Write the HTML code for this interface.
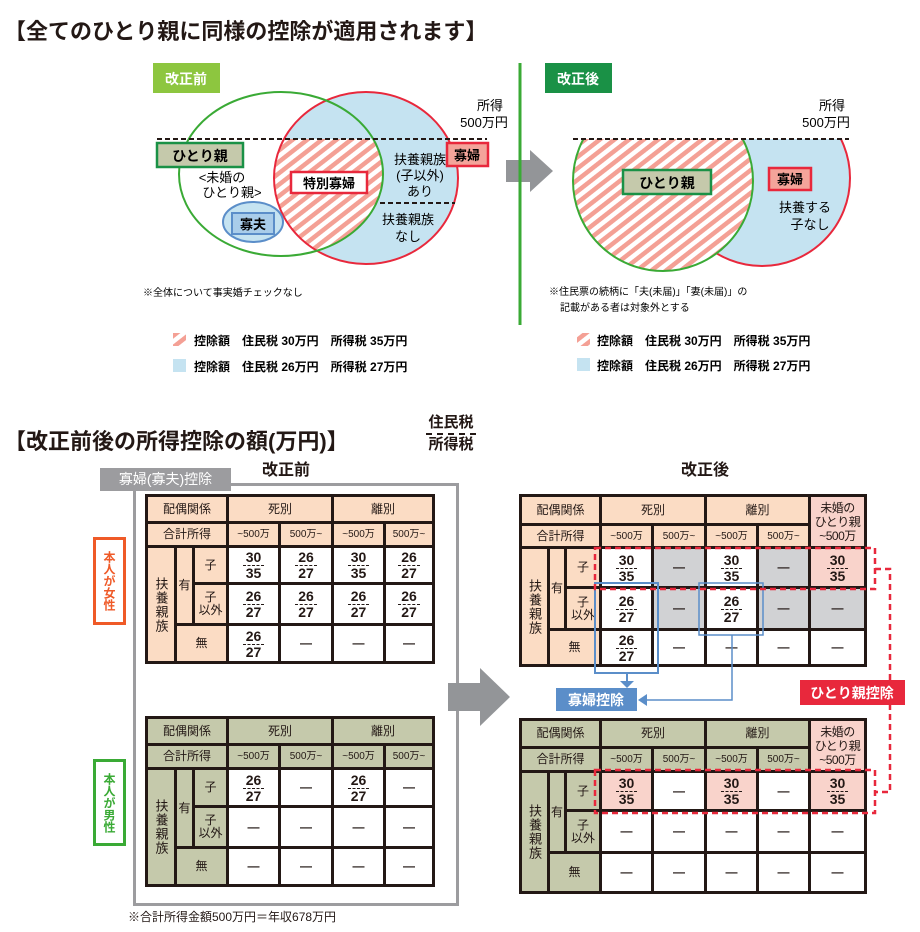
<!DOCTYPE html>
<html><head><meta charset="utf-8">
<style>
*{margin:0;padding:0;box-sizing:border-box}
body{width:920px;height:932px;background:#fff;position:relative;overflow:hidden;font-family:"Liberation Sans","Noto Sans CJK JP",sans-serif;color:#231815}
.abs{position:absolute}
.t{position:absolute;display:grid;gap:3px;padding:3px;background:#231815}
.t>div{display:flex;align-items:center;justify-content:center;text-align:center;font-size:12px;line-height:13px;background:#fff}
.p>div.h{background:#fbdcc4}
.g>div.h{background:#c5c9ab}
.t>div.gy{background:#d1d2d4}
.t>div.pk{background:#f9d3cb}
.t>div.v{writing-mode:vertical-rl;letter-spacing:1px;font-size:13px}
.t>div.s{font-size:10px}
.t>div.m{font-size:12px;line-height:14px;letter-spacing:-0.5px}
.f{display:flex;flex-direction:column;align-items:center;font-size:14px;line-height:14px;font-weight:bold}
.f span:first-child{border-bottom:1.5px dashed #231815;padding:0 3px 1px}
.d{font-size:14px;font-weight:bold}
</style></head><body>

<div class="abs" style="left:4px;top:14px;font-size:22px;font-weight:bold;letter-spacing:0px">【全てのひとり親に同様の控除が適用されます】</div>
<div class="abs" style="left:4px;top:424px;font-size:22px;font-weight:bold">【改正前後の所得控除の額(万円)】</div>
<div class="abs" style="left:418px;top:413px;width:66px;text-align:center;font-size:15px;font-weight:bold;line-height:20px"><div style="border-bottom:2px dashed #231815;display:inline-block;padding:0 2px">住民税</div><div>所得税</div></div>
<div class="abs" style="left:262px;top:456px;font-size:16px;font-weight:bold">改正前</div>
<div class="abs" style="left:681px;top:456px;font-size:16px;font-weight:bold">改正後</div>

<div class="abs" style="left:133px;top:483px;width:326px;height:423px;border:3px solid #9c9c9f"></div>
<div class="abs" style="left:100px;top:468px;width:131px;height:23px;background:#9c9c9f;color:#fff;font-size:14px;line-height:23px;text-align:center">寡婦(寡夫)控除</div>
<div class="abs" style="left:93px;top:537px;width:33px;height:88px;border:3px solid #ef5a28;color:#ef5a28;writing-mode:vertical-rl;font-size:12px;display:flex;align-items:center;justify-content:center;font-weight:bold">本人が女性</div>
<div class="abs" style="left:93px;top:759px;width:33px;height:87px;border:3px solid #3aaa35;color:#3aaa35;writing-mode:vertical-rl;font-size:12px;display:flex;align-items:center;justify-content:center;font-weight:bold">本人が男性</div>

<div class="t p" style="left:145px;top:494px;grid-template-columns:26px 15px 31px 49px 50px 49px 46px;grid-template-rows:24px 21px 34px 38px 35px">
<div class="h" style="grid-column:1/4;grid-row:1">配偶関係</div><div class="h" style="grid-column:4/6;grid-row:1">死別</div><div class="h" style="grid-column:6/8;grid-row:1">離別</div>
<div class="h" style="grid-column:1/4">合計所得</div><div class="h s">~500万</div><div class="h s">500万~</div><div class="h s">~500万</div><div class="h s">500万~</div>
<div class="h v" style="grid-row:3/6;grid-column:1">扶養親族</div><div class="h" style="grid-row:3/5;grid-column:2">有</div><div class="h" style="grid-column:3;grid-row:3">子</div>
<div style="grid-row:3;grid-column:4"><div class="f"><span>30</span><span>35</span></div></div><div style="grid-row:3;grid-column:5"><div class="f"><span>26</span><span>27</span></div></div><div style="grid-row:3;grid-column:6"><div class="f"><span>30</span><span>35</span></div></div><div style="grid-row:3;grid-column:7"><div class="f"><span>26</span><span>27</span></div></div>
<div class="h" style="grid-row:4;grid-column:3">子<br>以外</div>
<div style="grid-row:4;grid-column:4"><div class="f"><span>26</span><span>27</span></div></div><div style="grid-row:4;grid-column:5"><div class="f"><span>26</span><span>27</span></div></div><div style="grid-row:4;grid-column:6"><div class="f"><span>26</span><span>27</span></div></div><div style="grid-row:4;grid-column:7"><div class="f"><span>26</span><span>27</span></div></div>
<div class="h" style="grid-column:2/4;grid-row:5">無</div>
<div style="grid-row:5;grid-column:4"><div class="f"><span>26</span><span>27</span></div></div><div class="d" style="grid-row:5;grid-column:5">—</div><div class="d" style="grid-row:5;grid-column:6">—</div><div class="d" style="grid-row:5;grid-column:7">—</div>
</div>

<div class="t g" style="left:145px;top:716px;grid-template-columns:26px 15px 31px 49px 50px 49px 46px;grid-template-rows:24px 21px 35px 38px 35px">
<div class="h" style="grid-column:1/4;grid-row:1">配偶関係</div><div class="h" style="grid-column:4/6;grid-row:1">死別</div><div class="h" style="grid-column:6/8;grid-row:1">離別</div>
<div class="h" style="grid-column:1/4;grid-row:2">合計所得</div><div class="h s" style="grid-row:2;grid-column:4">~500万</div><div class="h s" style="grid-row:2;grid-column:5">500万~</div><div class="h s" style="grid-row:2;grid-column:6">~500万</div><div class="h s" style="grid-row:2;grid-column:7">500万~</div>
<div class="h v" style="grid-row:3/6;grid-column:1">扶養親族</div><div class="h" style="grid-row:3/5;grid-column:2">有</div><div class="h" style="grid-row:3;grid-column:3">子</div>
<div style="grid-row:3;grid-column:4"><div class="f"><span>26</span><span>27</span></div></div><div class="d" style="grid-row:3;grid-column:5">—</div><div style="grid-row:3;grid-column:6"><div class="f"><span>26</span><span>27</span></div></div><div class="d" style="grid-row:3;grid-column:7">—</div>
<div class="h" style="grid-row:4;grid-column:3">子<br>以外</div>
<div class="d" style="grid-row:4;grid-column:4">—</div><div class="d" style="grid-row:4;grid-column:5">—</div><div class="d" style="grid-row:4;grid-column:6">—</div><div class="d" style="grid-row:4;grid-column:7">—</div>
<div class="h" style="grid-column:2/4;grid-row:5">無</div>
<div class="d" style="grid-row:5;grid-column:4">—</div><div class="d" style="grid-row:5;grid-column:5">—</div><div class="d" style="grid-row:5;grid-column:6">—</div><div class="d" style="grid-row:5;grid-column:7">—</div>
</div>

<div class="t p" style="left:519px;top:494px;grid-template-columns:25px 14px 32px 49px 50px 49px 49px 53px;grid-template-rows:26px 20px 37px 39px 33px">
<div class="h" style="grid-column:1/4;grid-row:1">配偶関係</div><div class="h" style="grid-column:4/6;grid-row:1">死別</div><div class="h" style="grid-column:6/8;grid-row:1">離別</div><div class="pk m" style="grid-row:1/3;grid-column:8">未婚の<br>ひとり親<br>~500万</div>
<div class="h" style="grid-column:1/4;grid-row:2">合計所得</div><div class="h s" style="grid-row:2;grid-column:4">~500万</div><div class="h s" style="grid-row:2;grid-column:5">500万~</div><div class="h s" style="grid-row:2;grid-column:6">~500万</div><div class="h s" style="grid-row:2;grid-column:7">500万~</div>
<div class="h v" style="grid-row:3/6;grid-column:1">扶養親族</div><div class="h" style="grid-row:3/5;grid-column:2">有</div><div class="h" style="grid-row:3;grid-column:3">子</div>
<div style="grid-row:3;grid-column:4"><div class="f"><span>30</span><span>35</span></div></div><div class="gy d" style="grid-row:3;grid-column:5">—</div><div style="grid-row:3;grid-column:6"><div class="f"><span>30</span><span>35</span></div></div><div class="gy d" style="grid-row:3;grid-column:7">—</div><div class="pk" style="grid-row:3;grid-column:8"><div class="f"><span>30</span><span>35</span></div></div>
<div class="h" style="grid-row:4;grid-column:3">子<br>以外</div>
<div style="grid-row:4;grid-column:4"><div class="f"><span>26</span><span>27</span></div></div><div class="gy d" style="grid-row:4;grid-column:5">—</div><div style="grid-row:4;grid-column:6"><div class="f"><span>26</span><span>27</span></div></div><div class="gy d" style="grid-row:4;grid-column:7">—</div><div class="gy d" style="grid-row:4;grid-column:8">—</div>
<div class="h" style="grid-column:2/4;grid-row:5">無</div>
<div style="grid-row:5;grid-column:4"><div class="f"><span>26</span><span>27</span></div></div><div class="d" style="grid-row:5;grid-column:5">—</div><div class="d" style="grid-row:5;grid-column:6">—</div><div class="d" style="grid-row:5;grid-column:7">—</div><div class="d" style="grid-row:5;grid-column:8">—</div>
</div>

<div class="t g" style="left:519px;top:718px;grid-template-columns:25px 14px 32px 49px 50px 49px 49px 53px;grid-template-rows:25px 21px 36px 39px 37px">
<div class="h" style="grid-column:1/4;grid-row:1">配偶関係</div><div class="h" style="grid-column:4/6;grid-row:1">死別</div><div class="h" style="grid-column:6/8;grid-row:1">離別</div><div class="pk m" style="grid-row:1/3;grid-column:8">未婚の<br>ひとり親<br>~500万</div>
<div class="h" style="grid-column:1/4;grid-row:2">合計所得</div><div class="h s" style="grid-row:2;grid-column:4">~500万</div><div class="h s" style="grid-row:2;grid-column:5">500万~</div><div class="h s" style="grid-row:2;grid-column:6">~500万</div><div class="h s" style="grid-row:2;grid-column:7">500万~</div>
<div class="h v" style="grid-row:3/6;grid-column:1">扶養親族</div><div class="h" style="grid-row:3/5;grid-column:2">有</div><div class="h" style="grid-row:3;grid-column:3">子</div>
<div class="pk" style="grid-row:3;grid-column:4"><div class="f"><span>30</span><span>35</span></div></div><div class="d" style="grid-row:3;grid-column:5">—</div><div class="pk" style="grid-row:3;grid-column:6"><div class="f"><span>30</span><span>35</span></div></div><div class="d" style="grid-row:3;grid-column:7">—</div><div class="pk" style="grid-row:3;grid-column:8"><div class="f"><span>30</span><span>35</span></div></div>
<div class="h" style="grid-row:4;grid-column:3">子<br>以外</div>
<div class="d" style="grid-row:4;grid-column:4">—</div><div class="d" style="grid-row:4;grid-column:5">—</div><div class="d" style="grid-row:4;grid-column:6">—</div><div class="d" style="grid-row:4;grid-column:7">—</div><div class="d" style="grid-row:4;grid-column:8">—</div>
<div class="h" style="grid-column:2/4;grid-row:5">無</div>
<div class="d" style="grid-row:5;grid-column:4">—</div><div class="d" style="grid-row:5;grid-column:5">—</div><div class="d" style="grid-row:5;grid-column:6">—</div><div class="d" style="grid-row:5;grid-column:7">—</div><div class="d" style="grid-row:5;grid-column:8">—</div>
</div>

<div class="abs" style="left:128px;top:908px;font-size:12px">※合計所得金額500万円＝年収678万円</div>

<svg class="abs" style="left:0;top:0" width="920" height="932" viewBox="0 0 920 932" font-family="Liberation Sans, Noto Sans CJK JP, sans-serif">
<defs>
<pattern id="h" width="9" height="9" patternUnits="userSpaceOnUse" patternTransform="rotate(52)">
<rect width="9" height="9" fill="#fff"/><rect width="4.5" height="9" fill="#f4a095"/></pattern>
<clipPath id="cr"><ellipse cx="366" cy="178" rx="92" ry="86"/></clipPath>
<clipPath id="below"><rect x="0" y="139" width="920" height="200"/></clipPath>
</defs>
<rect x="153" y="63" width="67" height="30" fill="#8dc63f"/>
<text x="186" y="84" font-size="14" font-weight="bold" fill="#fff" text-anchor="middle">改正前</text>
<ellipse cx="366" cy="178" rx="92" ry="86" fill="#c5e3f1"/>
<g clip-path="url(#cr)"><ellipse cx="281" cy="174" rx="102" ry="82" fill="url(#h)" clip-path="url(#below)"/></g>
<ellipse cx="366" cy="178" rx="92" ry="86" fill="none" stroke="#e8283c" stroke-width="2"/>
<ellipse cx="281" cy="174" rx="102" ry="82" fill="none" stroke="#3aaa35" stroke-width="2"/>
<ellipse cx="253" cy="222" rx="30" ry="20" fill="#c5e3f1" stroke="#5b8ec9" stroke-width="2"/>
<line x1="157" y1="139" x2="487" y2="139" stroke="#231815" stroke-width="2" stroke-dasharray="5,3"/>
<line x1="380" y1="203" x2="455" y2="203" stroke="#231815" stroke-width="2" stroke-dasharray="5,3"/>
<rect x="157" y="143" width="86" height="24" fill="#c5c9ab" stroke="#1a9146" stroke-width="2.5"/>
<text x="200" y="161" font-size="14" font-weight="bold" text-anchor="middle">ひとり親</text>
<rect x="447" y="143" width="41" height="23" fill="#f4a49a" stroke="#e8283c" stroke-width="2.5"/>
<text x="467" y="160" font-size="13" font-weight="bold" text-anchor="middle">寡婦</text>
<rect x="291" y="172" width="76" height="21" fill="#fff" stroke="#e8283c" stroke-width="2.5"/>
<text x="329" y="188" font-size="13" font-weight="bold" text-anchor="middle">特別寡婦</text>
<rect x="232" y="213" width="42" height="21" fill="#a9cdea" stroke="#5b8ec9" stroke-width="2"/>
<text x="253" y="229" font-size="13" font-weight="bold" text-anchor="middle">寡夫</text>
<text x="222" y="182" font-size="13" text-anchor="middle">&lt;未婚の</text>
<text x="232" y="197" font-size="13" text-anchor="middle">ひとり親&gt;</text>
<text x="420" y="164" font-size="13" text-anchor="middle">扶養親族</text>
<text x="420" y="180" font-size="13" text-anchor="middle">(子以外)</text>
<text x="420" y="196" font-size="13" text-anchor="middle">あり</text>
<text x="408" y="224" font-size="13" text-anchor="middle">扶養親族</text>
<text x="408" y="241" font-size="13" text-anchor="middle">なし</text>
<text x="490" y="110" font-size="13" text-anchor="middle">所得</text>
<text x="484" y="127" font-size="13" text-anchor="middle">500万円</text>
<text x="143" y="296" font-size="10">※全体について事実婚チェックなし</text>
<polygon points="506,160 530,160 530,150 553,171 530,192 530,182 506,182" fill="#939598"/>
<line x1="520" y1="63" x2="520" y2="325" stroke="#3aaa35" stroke-width="3"/>
<rect x="545" y="63" width="67" height="30" fill="#1a9146"/>
<text x="578" y="84" font-size="14" font-weight="bold" fill="#fff" text-anchor="middle">改正後</text>
<g clip-path="url(#below)">
<circle cx="762" cy="178" r="88" fill="#c5e3f1" stroke="#e8283c" stroke-width="2"/>
<circle cx="663" cy="181" r="90" fill="url(#h)" stroke="#3aaa35" stroke-width="2"/>
</g>
<line x1="573" y1="139" x2="849" y2="139" stroke="#231815" stroke-width="2" stroke-dasharray="5,3"/>
<rect x="623" y="170" width="88" height="24" fill="#c5c9ab" stroke="#1a9146" stroke-width="2.5"/>
<text x="667" y="188" font-size="14" font-weight="bold" text-anchor="middle">ひとり親</text>
<rect x="769" y="168" width="42" height="22" fill="#f4a49a" stroke="#e8283c" stroke-width="2.5"/>
<text x="790" y="184" font-size="13" font-weight="bold" text-anchor="middle">寡婦</text>
<text x="805" y="212" font-size="13" text-anchor="middle">扶養する</text>
<text x="810" y="229" font-size="13" text-anchor="middle">子なし</text>
<text x="832" y="110" font-size="13" text-anchor="middle">所得</text>
<text x="826" y="127" font-size="13" text-anchor="middle">500万円</text>
<text x="549" y="295" font-size="10">※住民票の続柄に「夫(未届)」「妻(未届)」の</text>
<text x="560" y="311" font-size="10">記載がある者は対象外とする</text>
<rect x="173" y="333" width="13" height="13" fill="url(#h)"/>
<rect x="173" y="359" width="13" height="13" fill="#c5e3f1"/>
<text x="194" y="345" font-size="12" font-weight="bold">控除額　住民税 30万円　所得税 35万円</text>
<text x="194" y="371" font-size="12" font-weight="bold">控除額　住民税 26万円　所得税 27万円</text>
<rect x="577" y="333" width="13" height="13" fill="url(#h)"/>
<rect x="577" y="358" width="13" height="13" fill="#c5e3f1"/>
<text x="597" y="345" font-size="12" font-weight="bold">控除額　住民税 30万円　所得税 35万円</text>
<text x="597" y="370" font-size="12" font-weight="bold">控除額　住民税 26万円　所得税 27万円</text>
<polygon points="448,683 480,683 480,668 510,697 480,726 480,711 448,711" fill="#939598"/>
<rect x="595" y="583" width="63" height="90" fill="none" stroke="#5b8ec9" stroke-width="2"/>
<rect x="699" y="583" width="64" height="52" fill="none" stroke="#5b8ec9" stroke-width="1.5"/>
<line x1="627" y1="673" x2="627" y2="682" stroke="#5b8ec9" stroke-width="2"/>
<polygon points="620,681 634,681 627,688" fill="#5b8ec9"/>
<polyline points="732,635 732,700 646,700" fill="none" stroke="#5b8ec9" stroke-width="1.5"/>
<polygon points="638,700 647,694 647,706" fill="#5b8ec9"/>
<rect x="556" y="688" width="81" height="23" fill="#5b8ec9"/>
<text x="596" y="705" font-size="14" font-weight="bold" fill="#fff" text-anchor="middle">寡婦控除</text>
<g fill="none" stroke="#e8283c" stroke-width="2.5" stroke-dasharray="6,4">
<rect x="595" y="548" width="280" height="41"/>
<rect x="595" y="770" width="280" height="43"/>
<polyline points="875,569 890,569 890,792 875,792"/>
</g>
<rect x="800" y="680" width="105" height="25" fill="#e8283c"/>
<text x="852" y="698" font-size="14" font-weight="bold" fill="#fff" text-anchor="middle">ひとり親控除</text>
</svg>
</body></html>
